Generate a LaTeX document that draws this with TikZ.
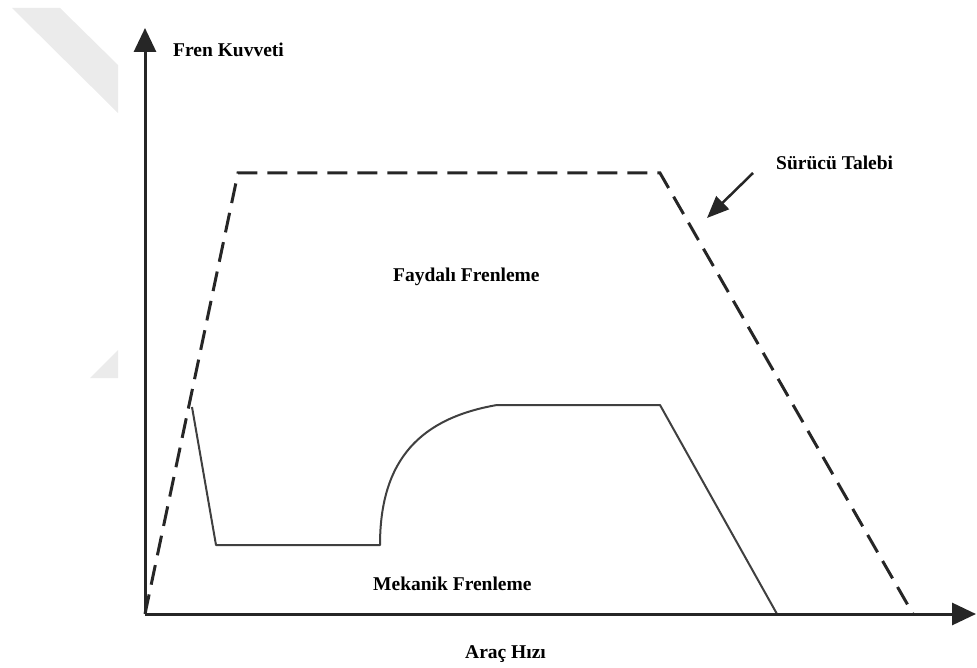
\documentclass[tikz,border=0pt]{standalone}
\usepackage{fontspec}
\setmainfont{Liberation Serif}
\usetikzlibrary{arrows.meta}

\begin{document}
\begin{tikzpicture}[x=1pt,y=-1pt]
  \tikzset{ax/.style={line width=3pt,draw=black!85,-{Triangle[length=24pt,width=22pt]}},
    dd/.style={line width=3pt,draw=black!85,dash pattern=on 20pt off 10pt},
    ss/.style={line width=2pt,draw=black!75,line join=round},
    lb/.style={anchor=base west,inner sep=0pt,font=\bfseries\fontsize{19.5}{23}\selectfont}}
  \useasboundingbox (0,0) rectangle (977,668);
  \fill[black!8] (12,8) -- (60,8) -- (118,65) -- (118,113) -- cycle;
  \fill[black!8] (90,378) -- (118,350) -- (118,378) -- cycle;
  \coordinate (O) at (145,614);
  \coordinate (ytop) at (145,28);
  \coordinate (xend) at (976,614);
  \coordinate (d1) at (238,173);
  \coordinate (d2) at (660,173);
  \coordinate (d3) at (913,614);
  \coordinate (s1) at (192,407);
  \coordinate (s2) at (216,545);
  \coordinate (s3) at (380,545);
  \coordinate (s4) at (497,405);
  \coordinate (s5) at (660,405);
  \coordinate (s6) at (777,614);
  \coordinate (a0) at (753,173);
  \coordinate (a1) at (707,218);
  \draw[dd] (O) -- (d1) -- (d2) -- (d3);
  \draw[ss] (s1) -- (s2) -- (s3) .. controls (380,458) and (422,418) .. (s4) -- (s5) -- (s6);
  \draw[ax] (O) -- (ytop);
  \draw[ax] (O) -- (xend);
  \draw[line width=2.5pt,draw=black!85,-{Triangle[length=22pt,width=18pt]}] (a0) -- (a1);
  \node[lb] (fren) at (173,57) {Fren Kuvveti};
  \node[lb] (talep) at (776,170) {Sürücü Talebi};
  \node[lb] (fayda) at (393,282) {Faydalı Frenleme};
  \node[lb] (mekanik) at (373,590) {Mekanik Frenleme};
  \node[lb] (hiz) at (465,658) {Araç Hızı};
\end{tikzpicture}
\end{document}
